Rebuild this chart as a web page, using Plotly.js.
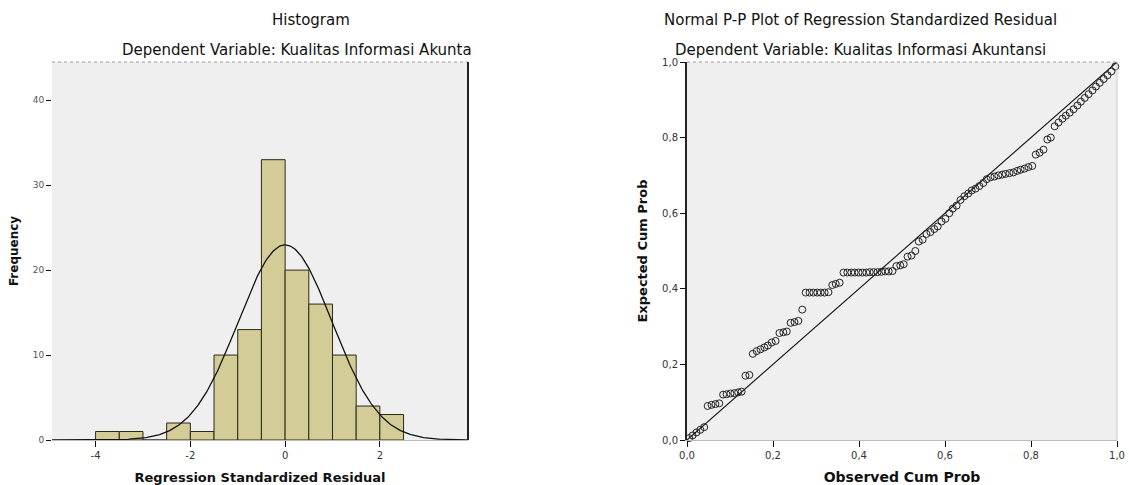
<!DOCTYPE html>
<html>
<head>
<meta charset="utf-8">
<script src="https://cdn.plot.ly/plotly-3.0.1.min.js"></script>
<style>
  html, body { margin: 0; padding: 0; background: #ffffff; }
  #chart { width: 1129px; height: 485px; }
</style>
</head>
<body>
<div id="chart"></div>
<script>
// ---------- Histogram data ----------
var binLeft = [-4.0, -3.5, -3.0, -2.5, -2.0, -1.5, -1.0, -0.5, 0.0, 0.5, 1.0, 1.5, 2.0];
var binFreq = [1, 1, 0, 2, 1, 10, 13, 33, 20, 16, 10, 4, 3];
var binWidth = 0.5;
var residMean = 0.0;
var residSD = 0.99;
var residN = 114;
var histXTicks = [-4, -2, 0, 2];
var histXTickText = ["-4", "-2", "0", "2"];
var histYTicks = [0, 10, 20, 30, 40];
var histYTickText = ["0", "10", "20", "30", "40"];

// ---------- P-P plot data ----------
var observedCumProb = [
  0.005, 0.013, 0.022, 0.031, 0.040,
  0.048, 0.057, 0.066, 0.075,
  0.084, 0.092, 0.101, 0.110, 0.119, 0.127,
  0.136, 0.145,
  0.153, 0.162, 0.171, 0.180, 0.188, 0.197, 0.206,
  0.215, 0.224, 0.232,
  0.241, 0.250, 0.259,
  0.268,
  0.276, 0.285, 0.294, 0.303, 0.311, 0.320, 0.329,
  0.338, 0.346, 0.355,
  0.364, 0.373, 0.382, 0.390, 0.399, 0.408, 0.417, 0.425, 0.434, 0.443, 0.452, 0.461, 0.469, 0.478,
  0.487, 0.496, 0.504,
  0.513, 0.522, 0.531,
  0.539, 0.548, 0.557, 0.566, 0.575, 0.583, 0.592, 0.601, 0.610, 0.618, 0.627, 0.636, 0.645, 0.654, 0.662, 0.671, 0.680, 0.689, 0.697,
  0.706, 0.715, 0.724, 0.733, 0.741, 0.750, 0.759, 0.768, 0.776, 0.785, 0.794, 0.803,
  0.811, 0.820, 0.829,
  0.838, 0.846,
  0.855, 0.864, 0.873, 0.881, 0.890, 0.899, 0.908, 0.916, 0.925, 0.934, 0.943, 0.951, 0.960, 0.969, 0.978, 0.987, 0.996
];
var expectedCumProb = [
  0.005, 0.012, 0.020, 0.027, 0.034,
  0.090, 0.093, 0.095, 0.097,
  0.120, 0.121, 0.123, 0.124, 0.126, 0.128,
  0.170, 0.172,
  0.228, 0.235, 0.240, 0.245, 0.250, 0.258, 0.262,
  0.283, 0.285, 0.287,
  0.310, 0.312, 0.315,
  0.345,
  0.390, 0.390, 0.390, 0.390, 0.390, 0.390, 0.391,
  0.410, 0.413, 0.416,
  0.443, 0.443, 0.443, 0.443, 0.443, 0.443, 0.443, 0.444, 0.444, 0.444, 0.445, 0.446, 0.446, 0.447,
  0.460, 0.462, 0.465,
  0.485, 0.488, 0.500,
  0.525, 0.530, 0.545, 0.550, 0.558, 0.565, 0.578, 0.585, 0.600, 0.612, 0.620, 0.635, 0.645, 0.652, 0.660, 0.665, 0.672, 0.680, 0.690,
  0.695, 0.697, 0.700, 0.702, 0.704, 0.706, 0.708, 0.712, 0.715, 0.718, 0.722, 0.725,
  0.755, 0.760, 0.768,
  0.795, 0.800,
  0.830, 0.840, 0.850, 0.858, 0.866, 0.875, 0.885, 0.895, 0.905, 0.915, 0.925, 0.935, 0.945, 0.955, 0.965, 0.975, 0.988
];
var refLine = [0, 1];
var ppTicks = [0, 0.2, 0.4, 0.6, 0.8, 1.0];
var ppTickText = ["0,0", "0,2", "0,4", "0,6", "0,8", "1,0"];

// ---------- normal curve from fitted parameters ----------
var curveX = [], curveY = [];
for (var i = 0; i <= 400; i++) {
  var xv = -4.95 + i * (8.85 / 400);
  var z = (xv - residMean) / residSD;
  curveX.push(xv);
  curveY.push(residN * binWidth / (residSD * Math.sqrt(2 * Math.PI)) * Math.exp(-0.5 * z * z));
}

var W = 1129, H = 485;
function px(x) { return x / W; }
function py(y) { return 1 - y / H; }

var FONT = "DejaVu Sans, Liberation Sans, Arial, sans-serif";

var traces = [
  {
    type: "bar", x: binLeft, y: binFreq, width: binWidth, offset: 0,
    marker: { color: "#d3cc96", line: { color: "#2a2a18", width: 1 } },
    xaxis: "x", yaxis: "y", hoverinfo: "skip", showlegend: false
  },
  {
    type: "scatter", mode: "lines", x: curveX, y: curveY,
    line: { color: "#111111", width: 1.3 },
    xaxis: "x", yaxis: "y", hoverinfo: "skip", showlegend: false
  },
  {
    type: "scatter", mode: "lines", x: refLine, y: refLine,
    line: { color: "#111111", width: 1.1 },
    xaxis: "x2", yaxis: "y2", hoverinfo: "skip", showlegend: false
  },
  {
    type: "scatter", mode: "markers", x: observedCumProb, y: expectedCumProb,
    marker: { symbol: "circle-open", size: 7, color: "#222222", line: { width: 1 } },
    cliponaxis: false,
    xaxis: "x2", yaxis: "y2", hoverinfo: "skip", showlegend: false
  }
];

var yDom = [py(440), py(62)];

var layout = {
  width: W, height: H,
  margin: { l: 0, r: 0, t: 0, b: 0 },
  paper_bgcolor: "#ffffff",
  plot_bgcolor: "#efefef",
  separators: ",.",
  font: { family: FONT, color: "#111111", size: 10 },
  showlegend: false,
  bargap: 0,
  xaxis: {
    domain: [px(52), px(468)], range: [-4.92, 3.86],
    tickmode: "array", tickvals: histXTicks, ticktext: histXTickText,
    ticks: "outside", ticklen: 6, tickcolor: "#111111", tickwidth: 1,
    showgrid: false, zeroline: false, showline: true, linecolor: "#bbbbbb", linewidth: 1,
    tickfont: { family: FONT, size: 10, color: "#333333" },
    title: { text: "Regression Standardized Residual", font: { family: FONT, size: 13, color: "#111111", weight: "bold" }, standoff: 13 },
    anchor: "y", fixedrange: true
  },
  yaxis: {
    domain: yDom, range: [0, 44.5],
    tickmode: "array", tickvals: histYTicks, ticktext: histYTickText,
    ticks: "outside", ticklen: 5, tickcolor: "#111111", tickwidth: 1,
    showgrid: false, zeroline: false, showline: false,
    tickfont: { family: FONT, size: 9, color: "#555555" },
    title: { text: "Frequency", font: { family: FONT, size: 12, color: "#111111", weight: "bold" }, standoff: 11 },
    anchor: "x", fixedrange: true
  },
  xaxis2: {
    domain: [px(687), px(1117)], range: [0, 1],
    tickmode: "array", tickvals: ppTicks, ticktext: ppTickText,
    ticks: "outside", ticklen: 6, tickcolor: "#111111", tickwidth: 1,
    showgrid: false, zeroline: false, showline: true, linecolor: "#bbbbbb", linewidth: 1,
    tickfont: { family: FONT, size: 10, color: "#333333" },
    title: { text: "Observed Cum Prob", font: { family: FONT, size: 14, color: "#111111", weight: "bold" }, standoff: 13 },
    anchor: "y2", fixedrange: true
  },
  yaxis2: {
    domain: yDom, range: [0, 1],
    tickmode: "array", tickvals: ppTicks, ticktext: ppTickText,
    ticks: "outside", ticklen: 5, tickcolor: "#111111", tickwidth: 1,
    showgrid: false, zeroline: false, showline: true, linecolor: "#222222", linewidth: 2,
    tickfont: { family: FONT, size: 10, color: "#333333" },
    title: { text: "Expected Cum Prob", font: { family: FONT, size: 13, color: "#111111", weight: "bold" }, standoff: 12 },
    anchor: "x2", fixedrange: true
  },
  shapes: [
    { type: "line", xref: "paper", yref: "paper", x0: px(52), x1: px(468), y0: py(62), y1: py(62), line: { color: "#999999", width: 1, dash: "dot" } },
    { type: "line", xref: "paper", yref: "paper", x0: px(468), x1: px(468), y0: py(62), y1: py(440), line: { color: "#222222", width: 2 } },
    { type: "line", xref: "paper", yref: "paper", x0: px(687), x1: px(1117), y0: py(62), y1: py(62), line: { color: "#999999", width: 1, dash: "dot" } },
    { type: "line", xref: "paper", yref: "paper", x0: px(1117), x1: px(1117), y0: py(62), y1: py(440), line: { color: "#cccccc", width: 1 } }
  ],
  annotations: [
    { text: "Histogram", xref: "paper", yref: "paper", x: px(311), y: py(20), xanchor: "center", yanchor: "middle", showarrow: false,
      font: { family: FONT, size: 15, color: "#111111" } },
    { text: "Dependent Variable: Kualitas Informasi Akunta", xref: "paper", yref: "paper", x: px(120), y: py(50), xanchor: "left", yanchor: "middle", showarrow: false,
      font: { family: FONT, size: 15, color: "#111111" } },
    { text: "Normal P-P Plot of Regression Standardized Residual", xref: "paper", yref: "paper", x: px(860), y: py(20), xanchor: "center", yanchor: "middle", showarrow: false,
      font: { family: FONT, size: 15, color: "#111111" } },
    { text: "Dependent Variable: Kualitas Informasi Akuntansi", xref: "paper", yref: "paper", x: px(860), y: py(50), xanchor: "center", yanchor: "middle", showarrow: false,
      font: { family: FONT, size: 15, color: "#111111" } }
  ]
};

Plotly.newPlot("chart", traces, layout, { displayModeBar: false, staticPlot: true });
</script>
</body>
</html>
